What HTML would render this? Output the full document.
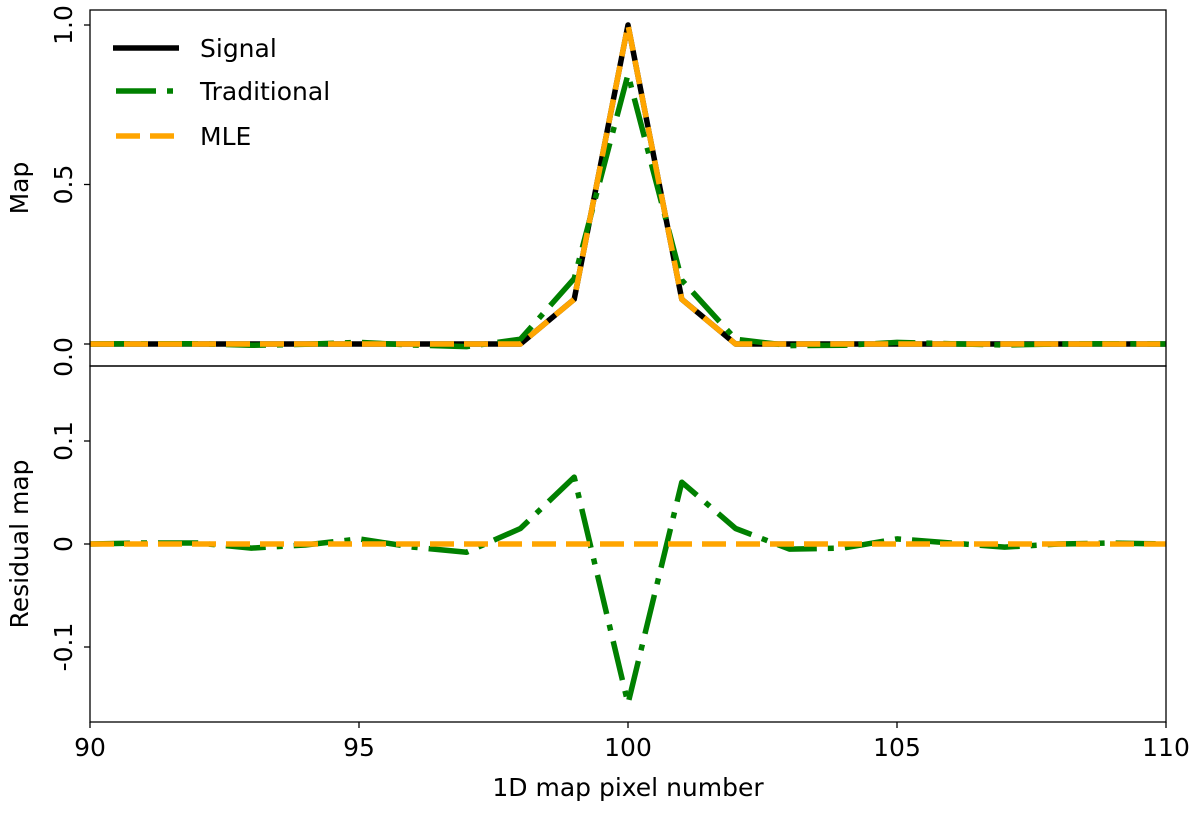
<!DOCTYPE html>
<html><head><meta charset="utf-8"><style>
body{margin:0;background:#fff;}
svg text{font-family:"DejaVu Sans","Liberation Sans",sans-serif;fill:#000;}
</style></head><body>
<svg id="chart" width="1200" height="811" viewBox="0 0 1200 811" xmlns="http://www.w3.org/2000/svg">
<g id="plots"></g>
<g id="axes"></g>
</svg>
<script>
const pixels=[90,91,92,93,94,95,96,97,98,99,100,101,102,103,104,105,106,107,108,109,110];
const signal=[0,0,0,0,0,0,0,0,0,0.14,1.0,0.14,0,0,0,0,0,0,0,0,0];
const tradResidual=[0,0.001,0.001,-0.004,-0.001,0.005,-0.003,-0.008,0.015,0.065,-0.155,0.06,0.015,-0.005,-0.004,0.005,0.001,-0.003,0,0.001,0];
const traditional=signal.map((s,i)=>s+tradResidual[i]);
const mle=signal.slice();
const mleResidual=signal.map(()=>0);
const xTicks=[90,95,100,105,110];
const topTicks=[0,0.5,1.0];
const topTickLabels=["0.0","0.5","1.0"];
const botTicks=[-0.1,0,0.1];
const botTickLabels=["-0.1","0","0.1"];

const L=90,R=1166,T1=10,B1=366,T2=366,B2=722;
const x=v=>L+(v-90)/(110-90)*(R-L);
const y1=v=>344-v*319;
const y2=v=>544-v*1030;
const NS="http://www.w3.org/2000/svg";
function mk(tag,attrs,parent){const e=document.createElementNS(NS,tag);for(const k in attrs)e.setAttribute(k,attrs[k]);parent.appendChild(e);return e;}
const plots=document.getElementById('plots'),axes=document.getElementById('axes');
const cp1=mk('clipPath',{id:'c1'},plots);mk('rect',{x:L,y:T1,width:R-L,height:B1-T1},cp1);
const cp2=mk('clipPath',{id:'c2'},plots);mk('rect',{x:L,y:T2,width:R-L,height:B2-T2},cp2);
function line(vals,yf,stroke,dash,clip,name){
  const d=vals.map((v,i)=>(i?'L':'M')+x(pixels[i]).toFixed(1)+','+yf(v).toFixed(1)).join(' ');
  const p=mk('path',{d:d,fill:'none',stroke:stroke,'stroke-width':5.5,'stroke-dasharray':dash,'clip-path':'url(#'+clip+')','stroke-linejoin':'round'},plots);
  
  
}
line(signal,y1,'#000','none','c1','signal-line');
line(traditional,y1,'#008000','40,11,6,11','c1','traditional-line');
line(mle,y1,'#ffa500','24,10','c1','mle-line');
line(tradResidual,y2,'#008000','40,11,6,11','c2','traditional-residual-line');
line(mleResidual,y2,'#ffa500','24,10','c2','mle-residual-line');
mk('rect',{x:L,y:T1,width:R-L,height:B1-T1,fill:'none',stroke:'#000','stroke-width':1.3},axes);
mk('rect',{x:L,y:T2,width:R-L,height:B2-T2,fill:'none',stroke:'#000','stroke-width':1.3},axes);
function txt(s,xx,yy,rot,name,anchor){const t=mk('text',{x:xx,y:yy,'font-size':25,'text-anchor':anchor||'middle'},axes);if(rot)t.setAttribute('transform','rotate(-90 '+xx+' '+yy+')');t.textContent=s;return t;}
xTicks.forEach(v=>{mk('line',{x1:x(v),x2:x(v),y1:B2,y2:B2+6,stroke:'#000','stroke-width':1.3},axes);txt(String(v),x(v),756,false,'x-tick-label');});
topTicks.forEach((v,i)=>{mk('line',{x1:L-6,x2:L,y1:y1(v),y2:y1(v),stroke:'#000','stroke-width':1.3},axes);txt(topTickLabels[i],72,v===0?357:y1(v),true,'top-y-tick-label');});
botTicks.forEach((v,i)=>{mk('line',{x1:L-6,x2:L,y1:y2(v),y2:y2(v),stroke:'#000','stroke-width':1.3},axes);txt(botTickLabels[i],72,y2(v),true,'bottom-y-tick-label');});
txt("Map",28,188,true,'top-y-axis-title');
txt("Residual map",28,544,true,'bottom-y-axis-title');
txt("1D map pixel number",628,796,false,'x-axis-title');
const lg=mk('g',{},axes);
[['Signal','#000','none',48,113],['Traditional','#008000','40,11,6,20',91,116],['MLE','#ffa500','24,10',136,116]].forEach(([n,c,d,yy,x0])=>{
  mk('line',{x1:x0,x2:(n=='Traditional'?174:179),y1:yy,y2:yy,stroke:c,'stroke-width':5.5,'stroke-dasharray':d},lg);
  const t=mk('text',{x:200,y:yy+9,'font-size':25},lg);t.textContent=n;
  
});
</script>
</body></html>
